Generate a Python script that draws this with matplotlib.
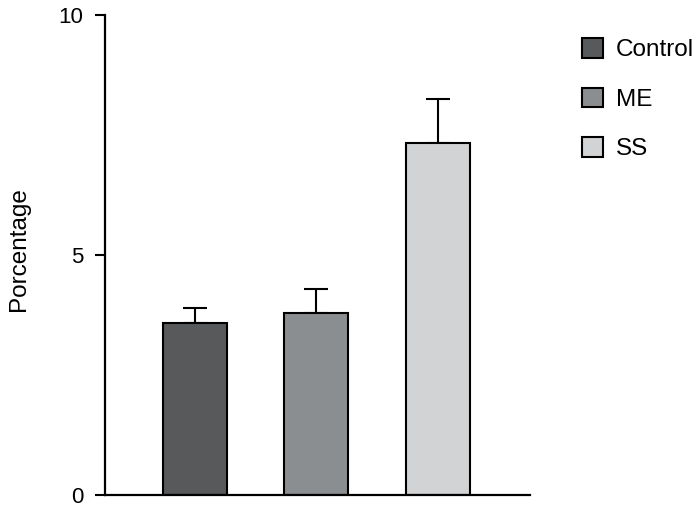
import numpy as np
from matplotlib import pyplot as plt
from matplotlib.patches import Patch

plt.rcParams['font.family'] = ['Liberation Sans', 'DejaVu Sans']

groups = ['Control', 'ME', 'SS']
means = [3.58, 3.79, 7.33]
errors = [0.32, 0.50, 0.92]
colors = ['#58595b', '#8b8e91', '#d1d3d4']

fig = plt.figure(figsize=(6.99, 5.08), dpi=100)
ax = fig.add_axes([105 / 699, 13 / 508, 425 / 699, 480 / 508])

x = np.arange(len(groups))
ax.bar(x, means, width=0.53, color=colors, edgecolor='black', linewidth=1.5,
       zorder=2)
ax.errorbar(x, means, yerr=[np.zeros(len(errors)), errors], fmt='none',
            ecolor='black', elinewidth=1.5, capsize=8.5, capthick=1.5, zorder=1)

ax.set_xlim(-0.74, 2.76)
ax.set_ylim(0, 10)
ax.set_yticks([0, 5, 10])
ax.set_xticks([])
ax.spines['top'].set_visible(False)
ax.spines['right'].set_visible(False)
ax.spines['left'].set_linewidth(1.6)
ax.spines['bottom'].set_linewidth(1.6)
ax.tick_params(axis='y', length=7.5, width=1.5, labelsize=16, pad=8)
ax.set_ylabel('Porcentage', fontsize=17.5)
ax.yaxis.set_label_coords(-0.177, 0.512)

handles = [Patch(facecolor=c, edgecolor='black', linewidth=1.5) for c in colors]
fig.legend(handles, groups, loc='upper left', bbox_to_anchor=(582 / 699, 1 - 38 / 508),
           frameon=False, fontsize=17.5, handlelength=0.88, handleheight=0.88,
           handletextpad=0.5, labelspacing=1.08, borderaxespad=0, borderpad=0)

fig.savefig('out.png', dpi=100)
